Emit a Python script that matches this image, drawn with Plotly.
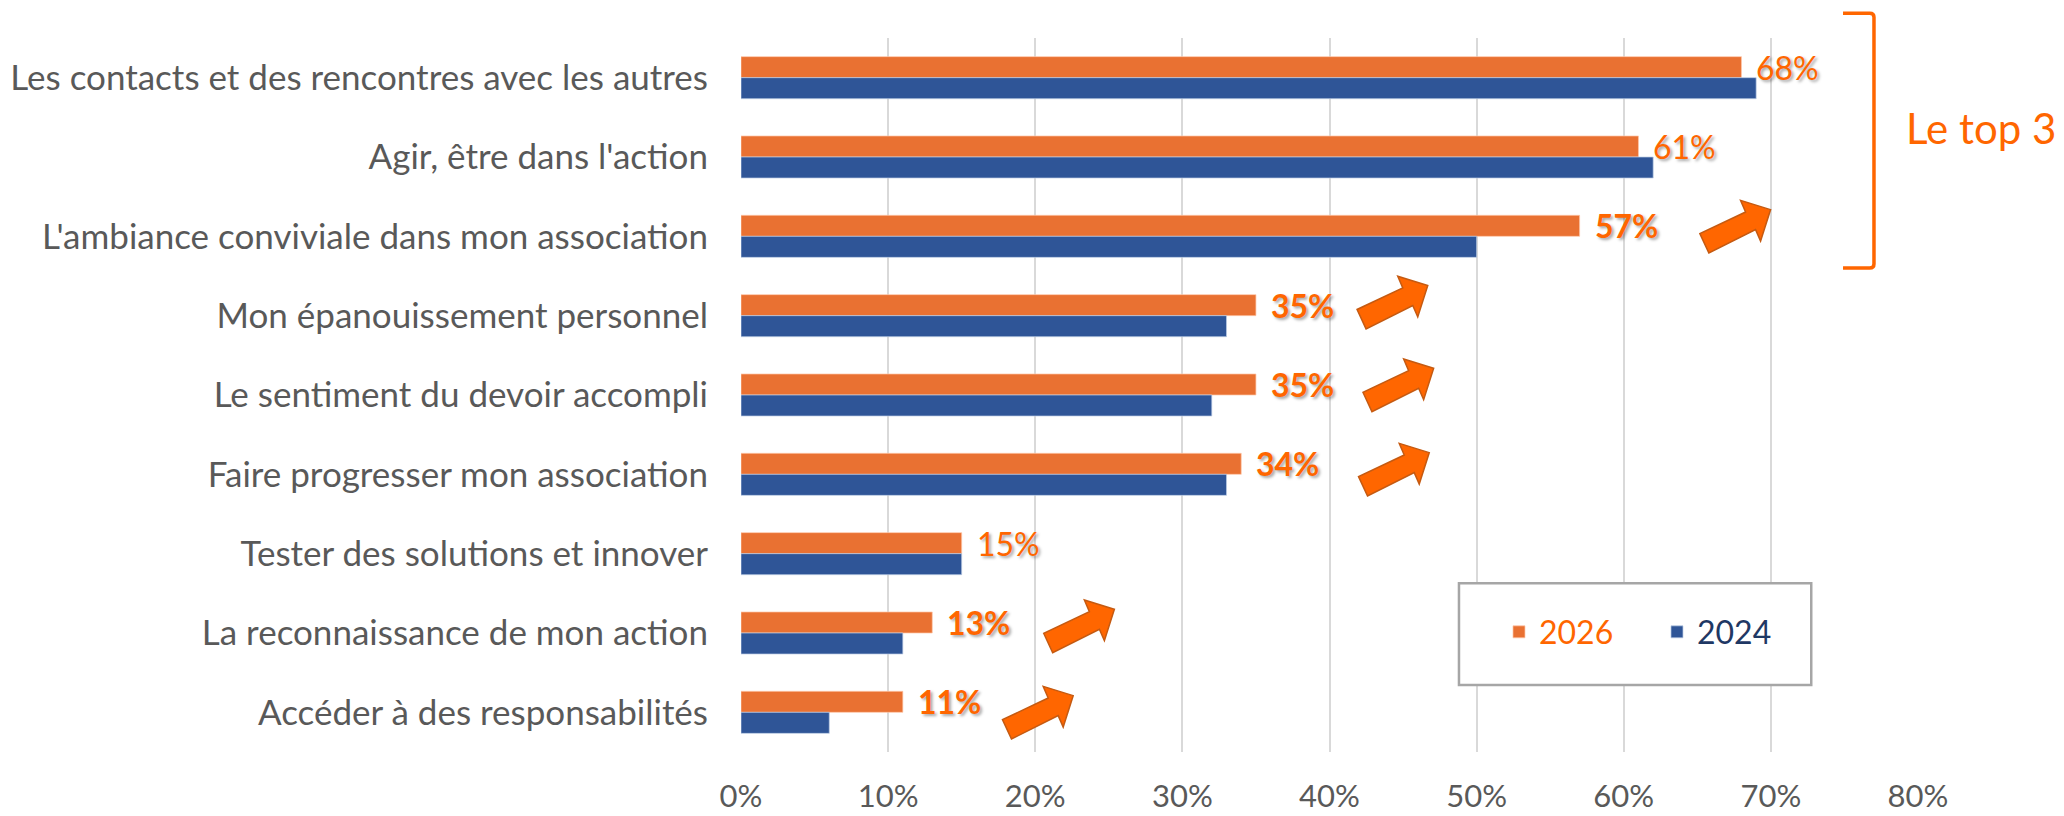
import plotly.graph_objects as go

# ---------------- data ----------------
categories = [
    "Les contacts et des rencontres avec les autres",
    "Agir, être dans l'action",
    "L'ambiance conviviale dans mon association",
    "Mon épanouissement personnel",
    "Le sentiment du devoir accompli",
    "Faire progresser mon association",
    "Tester des solutions et innover",
    "La reconnaissance de mon action",
    "Accéder à des responsabilités",
]
values_2026 = [68, 61, 57, 35, 35, 34, 15, 13, 11]
values_2024 = [69, 62, 50, 33, 32, 33, 15, 11, 6]
label_bold = [False, False, True, True, True, True, False, True, True]
x_ticks = [0, 10, 20, 30, 40, 50, 60, 70, 80]

# decorative arrows: (row index, x position in %, vertical pixel shift up)
arrows = [(2, 67.6, 10), (3, 44.3, 13.5), (4, 44.7, 10), (5, 44.4, 5), (7, 23.0, 7), (8, 20.2, 0)]

# ---------------- styling ----------------
FONT = "Lato"
ORANGE_BAR = "#E97132"
BLUE_BAR = "#2F5597"
ORANGE_TXT = "#FF6600"
NAVY_TXT = "#1F3864"
GRAY_TXT = "#595959"

idx = list(range(len(categories)))

fig = go.Figure()
fig.add_trace(go.Bar(
    y=idx, x=values_2026, orientation="h",
    name=f'<span style="color:{ORANGE_TXT}">2026</span>',
    marker=dict(color=ORANGE_BAR, line=dict(color="rgba(255,200,170,0.7)", width=1)),
))
fig.add_trace(go.Bar(
    y=idx, x=values_2024, orientation="h",
    name=f'<span style="color:{NAVY_TXT}">2024</span>',
    marker=dict(color=BLUE_BAR, line=dict(color="rgba(190,205,230,0.7)", width=1)),
))

bargap = 0.47
half_bar = (1 - bargap) / 4.0

annotations = []
for i, (v, b) in enumerate(zip(values_2026, label_bold)):
    t = f"{v}%"
    annotations.append(dict(
        x=v, y=i - half_bar, xref="x", yref="y",
        text=f"<b>{t}</b>" if b else t,
        showarrow=False, xanchor="left", yanchor="middle", xshift=13,
        font=dict(family=FONT, size=32, color=ORANGE_TXT,
                  shadow="2px 2px 3px rgba(0,0,0,0.35)"),
    ))

annotations.append(dict(
    x=0.988, y=0.874, xref="paper", yref="paper", text="Le top 3",
    showarrow=False, xanchor="left", yanchor="middle",
    font=dict(family=FONT, size=42, color=ORANGE_TXT),
))

shapes = []
# arrows (pixel-sized, anchored on data)
pts = [(-35.7, 7.3), (-26.7, 26.7), (20, 3.3), (25, 14.7), (35, -16.7), (5, -26), (10, -14.3)]
for row, xa, up in arrows:
    path = "M " + " L ".join(f"{dx:.1f},{(-dy + up):.1f}" for dx, dy in pts) + " Z"
    shapes.append(dict(
        type="path", xref="x", yref="y", xsizemode="pixel", ysizemode="pixel",
        xanchor=xa, yanchor=row, path=path,
        fillcolor=ORANGE_TXT, line=dict(color="#C55A11", width=1.5), layer="above",
    ))

# bracket for top 3
shapes.append(dict(
    type="path", xref="paper", yref="paper",
    path="M 0.9363,1.0346 L 0.9590,1.0346 Q 0.9626,1.0346 0.9626,1.0290 "
         "L 0.9626,0.6833 Q 0.9626,0.6777 0.9590,0.6777 L 0.9363,0.6777",
    line=dict(color=ORANGE_TXT, width=3.5), fillcolor="rgba(0,0,0,0)", layer="above",
))

# legend frame
shapes.append(dict(type="rect", xref="paper", yref="paper",
                   x0=0.6100, x1=0.9093, y0=0.0938, y1=0.2363,
                   line=dict(color="#A6A6A6", width=2.5), fillcolor="white", layer="above"))

fig.update_layout(
    width=2064, height=816,
    margin=dict(l=741, r=146, t=38, b=64),
    paper_bgcolor="white", plot_bgcolor="white",
    barmode="group", bargap=bargap, bargroupgap=0,
    font=dict(family=FONT, color=GRAY_TXT),
    xaxis=dict(
        range=[0, 80], tickvals=x_ticks, ticktext=[f"{t}%" for t in x_ticks],
        showgrid=True, gridcolor="#D9D9D9", gridwidth=2, zeroline=False,
        showline=False, ticks="", tickfont=dict(family=FONT, size=31, color=GRAY_TXT),
        ticklabelstandoff=23, fixedrange=True, automargin=False,
    ),
    yaxis=dict(
        range=[len(categories) - 0.5, -0.5], tickvals=idx, ticktext=categories,
        showgrid=False, zeroline=False, showline=False, ticks="",
        tickfont=dict(family=FONT, size=35, color=GRAY_TXT),
        ticklabelstandoff=32, fixedrange=True, automargin=False,
    ),
    showlegend=True,
    legend=dict(
        orientation="h", x=0.644, y=0.168, xanchor="left", yanchor="middle",
        bgcolor="rgba(0,0,0,0)", borderwidth=0,
        font=dict(family=FONT, size=32), entrywidth=113, itemwidth=30,
    ),
    annotations=annotations,
    shapes=shapes,
)

fig.write_html("out.html", config={"displayModeBar": False},
               post_script="document.body.style.margin='0';document.body.style.overflow='hidden';")
